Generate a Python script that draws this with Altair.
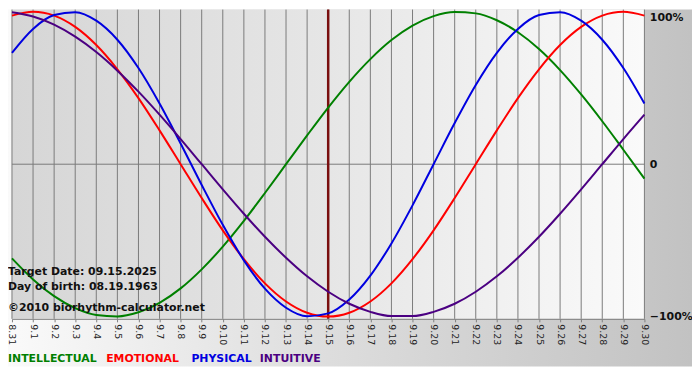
import altair as alt
import pandas as pd

dates = ["8.31", "9.1", "9.2", "9.3", "9.4", "9.5", "9.6", "9.7", "9.8", "9.9",
         "9.10", "9.11", "9.12", "9.13", "9.14", "9.15", "9.16", "9.17", "9.18", "9.19",
         "9.20", "9.21", "9.22", "9.23", "9.24", "9.25", "9.26", "9.27", "9.28", "9.29", "9.30"]

intellectual = [-0.618, -0.756, -0.866, -0.945, -0.990, -0.999, -0.972, -0.910, -0.815, -0.690,
                -0.541, -0.372, -0.189, 0.0, 0.189, 0.372, 0.541, 0.690, 0.815, 0.910,
                0.972, 0.999, 0.990, 0.945, 0.866, 0.756, 0.618, 0.458, 0.282, 0.095, -0.095]
emotional = [0.975, 1.0, 0.975, 0.901, 0.782, 0.623, 0.434, 0.222, 0.0, -0.222,
             -0.434, -0.623, -0.782, -0.901, -0.975, -1.0, -0.975, -0.901, -0.782, -0.623,
             -0.434, -0.222, 0.0, 0.222, 0.434, 0.623, 0.782, 0.901, 0.975, 1.0, 0.975]
physical = [0.731, 0.888, 0.979, 0.998, 0.942, 0.817, 0.631, 0.398, 0.136, -0.136,
            -0.398, -0.631, -0.817, -0.942, -0.998, -0.979, -0.888, -0.731, -0.520, -0.270,
            0.0, 0.270, 0.520, 0.731, 0.888, 0.979, 0.998, 0.942, 0.817, 0.631, 0.398]
intuitive = [0.997, 0.969, 0.916, 0.837, 0.736, 0.614, 0.476, 0.325, 0.165, 0.0,
             -0.165, -0.325, -0.476, -0.614, -0.736, -0.837, -0.916, -0.969, -0.997, -0.997,
             -0.969, -0.916, -0.837, -0.736, -0.614, -0.476, -0.325, -0.165, 0.0, 0.165, 0.325]

series_names = ["INTELLECTUAL", "EMOTIONAL", "PHYSICAL", "INTUITIVE"]
series_colors = ["#008000", "#ff0000", "#0000e0", "#4b0082"]
target_day = "9.15"
info_lines = ["Target Date: 09.15.2025", "Day of birth: 08.19.1963", "\u00a92010 biorhythm-calculator.net"]

rows = []
for name, vals in zip(series_names, [intellectual, emotional, physical, intuitive]):
    for i, (d, v) in enumerate(zip(dates, vals)):
        rows.append({"date": d, "value": v, "series": name, "order": i})
df = pd.DataFrame(rows)

PL = 4
W, H = 638, 312
PR, PB = 48, 48
FONT = "DejaVu Sans"

X = alt.X("date:O", sort=dates, title=None,
          scale=alt.Scale(type="point", padding=0),
          axis=alt.Axis(labelAngle=90, labelFontSize=9.5, labelFont=FONT, labelColor="#222222",
                        labelPadding=2, tickSize=3, tickColor="#808080", domainColor="#808080",
                        grid=False, zindex=1, labelOverlap=False))
Y = alt.Y("value:Q", title=None,
          scale=alt.Scale(domain=[-1.015, 1.015], nice=False, zero=False),
          axis=alt.Axis(orient="right", values=[-1, 0, 1], grid=False, ticks=False, domain=False,
                        labelExpr="datum.value == 0 ? '0' : format(datum.value*100, 'd') + '%'",
                        labelBaseline=alt.condition("datum.value == 1", alt.value("top"), alt.value("middle")),
                        labelFontSize=11, labelFontWeight="bold", labelFont=FONT,
                        labelColor="#111111", labelPadding=5, zindex=1))

one = pd.DataFrame({"a": [0]})

outer_bg = alt.Chart(one).mark_rect(
    color=alt.Gradient(gradient="linear", x1=0, y1=0, x2=1, y2=0,
                       stops=[alt.GradientStop(color="#fafafa", offset=0),
                              alt.GradientStop(color="#dedede", offset=0.45),
                              alt.GradientStop(color="#c2c2c2", offset=1)])
).encode(x=alt.value(-PL), x2=alt.value(W + PR), y=alt.value(0), y2=alt.value(H + PB))

plot_bg = alt.Chart(one).mark_rect(
    color=alt.Gradient(gradient="linear", x1=0, y1=0, x2=1, y2=0,
                       stops=[alt.GradientStop(color="#d6d6d6", offset=0),
                              alt.GradientStop(color="#e6e6e6", offset=0.5),
                              alt.GradientStop(color="#fafafa", offset=1)])
).encode(x=alt.value(0), x2=alt.value(W), y=alt.value(0), y2=alt.value(H))

grid_v = alt.Chart(pd.DataFrame({"date": dates})).mark_rule(color="#7a7a7a", strokeWidth=1).encode(x=X)
grid_h = alt.Chart(pd.DataFrame({"value": [0]})).mark_rule(color="#7a7a7a", strokeWidth=1).encode(y=Y)

target = alt.Chart(pd.DataFrame({"date": [target_day]})).mark_rule(
    color="#7a1010", strokeWidth=2.5).encode(x=X)

lines = alt.Chart(df).mark_line(strokeWidth=2, interpolate="monotone").encode(
    x=X, y=Y,
    color=alt.Color("series:N", scale=alt.Scale(domain=series_names, range=series_colors), legend=None),
    detail="series:N",
    order="order:Q",
)

info_layers = []
for txt, yy in zip(info_lines, [265, 280, 301]):
    info_layers.append(
        alt.Chart(one).mark_text(text=txt, align="left", baseline="middle", font=FONT,
                                 fontWeight="bold", fontSize=11, color="#111111")
        .encode(x=alt.value(-PL), y=alt.value(yy)))

legend_layers = []
for name, col, xx in zip(series_names, series_colors, [-PL, 95, 181, 250]):
    legend_layers.append(
        alt.Chart(one).mark_text(text=name, align="left", baseline="middle", font=FONT,
                                 fontWeight="bold", fontSize=11, color=col)
        .encode(x=alt.value(xx), y=alt.value(353)))

chart = alt.layer(outer_bg, plot_bg, grid_v, grid_h, target, lines,
                  *info_layers, *legend_layers).properties(
    width=W, height=H,
    autosize=alt.AutoSizeParams(type="none"),
    padding={"left": PL, "top": 0, "right": PR, "bottom": PB},
    background="white",
).configure_view(stroke=None)

chart.save("out.html", embed_options={"renderer": "svg", "actions": False})
